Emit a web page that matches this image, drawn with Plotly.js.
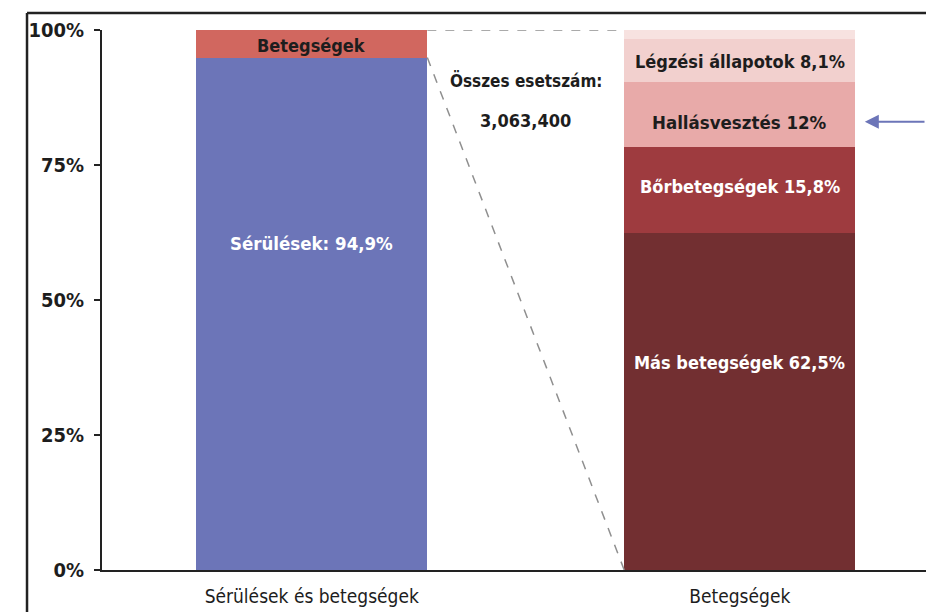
<!DOCTYPE html>
<html>
<head>
<meta charset="utf-8">
<script src="https://cdn.plot.ly/plotly-3.0.1.min.js"></script>
<style>html,body{margin:0;padding:0;background:#fff;}#chart{width:926px;height:612px;}</style>
</head>
<body>
<div id="chart"></div>
<script>
// ---- data ----
const categories = ['Sérülések és betegségek', 'Betegségek'];
const leftSeries = ['Sérülések', 'Betegségek'];
const leftValues = [94.9, 5.1];
const leftColors = ['#6c75b8', '#d1675f'];
const rightSeries = ['Más betegségek', 'Bőrbetegségek', 'Hallásvesztés', 'Légzési állapotok', 'Egyéb'];
const rightValues = [62.5, 15.8, 12, 8.1, 1.6];
const rightColors = ['#722f31', '#9e3b3f', '#e8aaa9', '#f2d0ce', '#f7e2e0'];
const yTickVals = [0, 25, 50, 75, 100];
const yTickText = ['0%', '25%', '50%', '75%', '100%'];
const totalLabel = 'Összes esetszám:';
const totalCases = '3,063,400';

const FONT = '"DejaVu Sans Condensed", "Liberation Sans Narrow", "Arial Narrow", sans-serif';
const BARW = 0.54;

const traces = [];
leftSeries.forEach((name, i) => {
  traces.push({type: 'bar', x: [categories[0]], y: [leftValues[i]], name: name,
    width: BARW, marker: {color: leftColors[i], line: {width: 0}}, hoverinfo: 'skip'});
});
rightSeries.forEach((name, i) => {
  traces.push({type: 'bar', x: [categories[1]], y: [rightValues[i]], name: name,
    width: BARW, marker: {color: rightColors[i], line: {width: 0}}, hoverinfo: 'skip'});
});

const cumLeft = leftValues.reduce((a, v) => a + v, 0);
const dashLine = {type: 'line', xref: 'x', yref: 'y', line: {color: '#8f8f8f', width: 1.5, dash: 'dash'}};
const x0edge = 0 + BARW / 2, x1edge = 1 - BARW / 2;

const shapes = [
  Object.assign({}, dashLine, {x0: x0edge, x1: x1edge, y0: cumLeft, y1: cumLeft}),
  Object.assign({}, dashLine, {x0: x0edge, x1: x1edge, y0: leftValues[0], y1: 0}),
  // outer frame
  {type: 'line', xref: 'paper', yref: 'paper', x0: -0.091, x1: -0.091, y0: 1.0315, y1: -0.1, line: {color: '#222', width: 2.5}},
  {type: 'line', xref: 'paper', yref: 'paper', x0: -0.091, x1: 1.02, y0: 1.0315, y1: 1.0315, line: {color: '#222', width: 2.5}}
];

const bold = (s, c) => ({family: FONT, size: s, color: c, weight: 700});
const annotations = [
  {x: 0, y: 97.2, xref: 'x', yref: 'y', text: '<b>Betegségek</b>', showarrow: false, font: bold(18, '#1d1d1d')},
  {x: 0, y: 60.5, xref: 'x', yref: 'y', text: '<b>Sérülések: 94,9%</b>', showarrow: false, font: bold(18.5, '#ffffff')},
  {x: 0.5, y: 90.6, xref: 'x', yref: 'y', text: '<b>' + totalLabel + '</b>', showarrow: false, font: bold(17, '#1d1d1d')},
  {x: 0.5, y: 83.3, xref: 'x', yref: 'y', text: '<b>' + totalCases + '</b>', showarrow: false, font: bold(18, '#1d1d1d')},
  {x: 1, y: 94.1, xref: 'x', yref: 'y', text: '<b>Légzési állapotok 8,1%</b>', showarrow: false, font: bold(18, '#1d1d1d')},
  {x: 1, y: 82.9, xref: 'x', yref: 'y', text: '<b>Hallásvesztés 12%</b>', showarrow: false, font: bold(18.5, '#1d1d1d')},
  {x: 1, y: 71.1, xref: 'x', yref: 'y', text: '<b>Bőrbetegségek 15,8%</b>', showarrow: false, font: bold(18, '#ffffff')},
  {x: 1, y: 38.5, xref: 'x', yref: 'y', text: '<b>Más betegségek 62,5%</b>', showarrow: false, font: bold(18, '#ffffff')},
  {x: 1.292, y: 83.0, xref: 'x', yref: 'y', text: '', showarrow: true, ax: 70, ay: 0,
   arrowhead: 2, arrowsize: 1.4, arrowwidth: 2, arrowcolor: '#6c75b8'}
];

const layout = {
  width: 926, height: 612,
  margin: {l: 102, r: 0, t: 30, b: 42, pad: 0},
  paper_bgcolor: '#ffffff', plot_bgcolor: '#ffffff',
  barmode: 'stack', bargap: 0,
  showlegend: false,
  xaxis: {type: 'category', range: [-0.49, 1.435], showgrid: false, zeroline: false,
    showline: true, linecolor: '#222', linewidth: 2, ticks: '', ticklabelstandoff: 8,
    tickfont: {family: FONT, size: 19, color: '#1d1d1d'}, fixedrange: true},
  yaxis: {range: [0, 100], showgrid: false, zeroline: false, showline: true, linecolor: '#222', linewidth: 2,
    ticks: 'outside', ticklen: 6, tickwidth: 2, tickcolor: '#222',
    tickvals: yTickVals, ticktext: yTickText, ticklabelstandoff: 6,
    tickfont: {family: '"DejaVu Sans Condensed", "DejaVu Sans", sans-serif', size: 20, color: '#1d1d1d', weight: 800},
    fixedrange: true},
  shapes: shapes,
  annotations: annotations
};

Plotly.newPlot('chart', traces, layout, {displayModeBar: false, staticPlot: true});
</script>
</body>
</html>
